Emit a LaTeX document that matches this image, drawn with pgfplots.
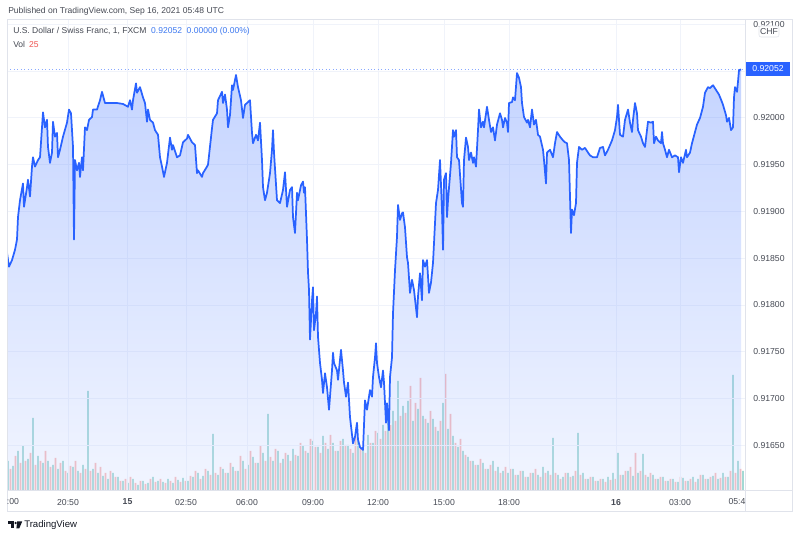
\documentclass[border=0pt]{standalone}
\usepackage{fontspec}
\setmainfont{Liberation Sans}
\usepackage{pgfplots}
\pgfplotsset{compat=1.18}
\usepackage{pgfplotstable}

\definecolor{tvblue}{RGB}{41,98,255}
\definecolor{tvgreen}{RGB}{38,166,154}
\definecolor{tvred}{RGB}{239,83,80}
\definecolor{tvgrid}{RGB}{240,243,250}
\definecolor{tvframe}{RGB}{224,227,235}
\definecolor{tvlabel}{RGB}{70,74,84}
\definecolor{tvdark}{RGB}{19,23,34}
\definecolor{tvlegend}{RGB}{60,120,240}

% USD/CHF 1-minute close, x = bar position along the time scale
\pgfplotstableread{
x p
7 0.91856
9 0.91841
12 0.91848
15 0.91859
17 0.91870
18 0.91894
20 0.91912
23 0.91930
24 0.91905
27 0.91926
28 0.91934
30 0.91916
32 0.91948
33 0.91958
35 0.91948
38 0.91955
40 0.91958
42 0.91990
43 0.92006
45 0.91990
47 0.91998
48 0.91969
50 0.91952
52 0.91963
53 0.91996
55 0.91980
57 0.91984
58 0.91958
60 0.91966
63 0.91980
67 0.91995
69 0.92009
71 0.92005
73 0.91969
74 0.91870
75 0.91955
77 0.91944
79 0.91952
80 0.91937
82 0.91958
83 0.91944
85 0.91990
87 0.91987
89 0.91998
92 0.92001
93 0.92009
97 0.92009
100 0.92019
102 0.92028
105 0.92016
110 0.92016
117 0.92016
123 0.92015
128 0.92012
130 0.92019
132 0.92009
133 0.92019
136 0.92037
137 0.92027
140 0.92033
143 0.92022
145 0.92016
147 0.91996
148 0.92009
150 0.91998
153 0.91995
155 0.91987
158 0.91982
160 0.91958
162 0.91948
164 0.91937
167 0.91952
170 0.91979
172 0.91966
173 0.91971
177 0.91958
180 0.91960
183 0.91974
187 0.91978
188 0.91982
192 0.91974
195 0.91971
197 0.91941
198 0.91944
202 0.91937
203 0.91941
207 0.91948
208 0.91950
212 0.91989
213 0.91998
217 0.92005
218 0.92019
222 0.92028
223 0.92016
225 0.92025
227 0.92009
228 0.91990
230 0.92003
232 0.92035
233 0.92030
236 0.92046
238 0.92033
241 0.92019
243 0.92000
245 0.92014
248 0.92017
250 0.92019
252 0.91984
253 0.91973
256 0.91982
258 0.91976
260 0.91995
262 0.91955
263 0.91926
265 0.91912
267 0.91920
270 0.91941
272 0.91966
273 0.91987
274 0.91963
277 0.91912
280 0.91909
283 0.91923
285 0.91942
287 0.91905
290 0.91923
292 0.91926
293 0.91894
295 0.91877
297 0.91920
298 0.91912
301 0.91928
303 0.91932
304 0.91920
305 0.91926
307 0.91870
308 0.91835
309 0.91816
310 0.91763
312 0.91805
313 0.91819
314 0.91773
316 0.91791
317 0.91809
318 0.91766
320 0.91738
322 0.91720
323 0.91706
325 0.91727
327 0.91712
329 0.91688
332 0.91730
333 0.91749
334 0.91738
337 0.91730
338 0.91720
341 0.91752
343 0.91730
344 0.91717
346 0.91702
348 0.91717
350 0.91680
353 0.91652
355 0.91659
357 0.91674
358 0.91656
360 0.91648
363 0.91645
365 0.91698
367 0.91688
368 0.91695
370 0.91709
372 0.91702
373 0.91723
375 0.91744
376 0.91759
377 0.91738
379 0.91723
381 0.91712
383 0.91730
384 0.91717
386 0.91674
387 0.91695
389 0.91666
390 0.91723
392 0.91744
393 0.91791
395 0.91837
397 0.91873
398 0.91907
400 0.91891
402 0.91898
403 0.91899
405 0.91883
407 0.91851
408 0.91845
410 0.91813
412 0.91827
414 0.91816
417 0.91787
418 0.91809
420 0.91834
422 0.91805
423 0.91848
425 0.91841
427 0.91848
429 0.91813
431 0.91824
433 0.91845
434 0.91866
436 0.91909
438 0.91923
440 0.91955
442 0.91902
443 0.91859
444 0.91934
446 0.91941
447 0.91894
448 0.91912
451 0.91952
453 0.91987
454 0.91980
456 0.91987
457 0.91958
459 0.91955
462 0.91909
463 0.91905
464 0.91955
466 0.91979
468 0.91969
469 0.91955
471 0.91963
473 0.91952
474 0.91958
476 0.91948
478 0.91987
479 0.92009
481 0.91990
483 0.91996
484 0.91990
487 0.92012
489 0.91998
491 0.91985
493 0.91990
495 0.91976
497 0.91993
500 0.92005
502 0.91998
503 0.91990
505 0.92000
507 0.91995
508 0.91985
509 0.92016
512 0.92017
513 0.92022
515 0.92019
517 0.92048
519 0.92043
521 0.92033
522 0.92016
524 0.92001
527 0.91995
528 0.91998
530 0.91990
532 0.92009
534 0.91993
536 0.91998
538 0.91982
540 0.91980
543 0.91966
544 0.91955
546 0.91930
547 0.91963
550 0.91966
553 0.91958
555 0.91973
557 0.91985
560 0.91980
563 0.91976
565 0.91974
567 0.91973
569 0.91955
571 0.91877
572 0.91902
574 0.91896
576 0.91909
577 0.91952
579 0.91969
582 0.91966
585 0.91968
588 0.91963
590 0.91960
593 0.91958
597 0.91958
600 0.91968
603 0.91969
605 0.91960
608 0.91966
612 0.91976
615 0.91987
617 0.92001
618 0.92014
620 0.91982
623 0.91980
625 0.91998
628 0.92009
630 0.91995
632 0.91985
633 0.91998
635 0.92016
637 0.92005
638 0.91987
641 0.91980
643 0.91973
645 0.91969
647 0.91987
648 0.91996
651 0.91995
653 0.91996
654 0.91973
656 0.91980
658 0.91976
661 0.91973
662 0.91985
663 0.91973
665 0.91966
667 0.91958
669 0.91966
672 0.91958
675 0.91960
678 0.91958
679 0.91942
681 0.91958
683 0.91952
686 0.91966
687 0.91958
690 0.91963
692 0.91973
695 0.91985
697 0.91993
700 0.92000
703 0.92012
705 0.92027
708 0.92033
710 0.92032
713 0.92035
716 0.92030
719 0.92025
722 0.92017
723 0.92014
726 0.92003
727 0.91996
729 0.92000
731 0.91987
733 0.91990
734 0.92022
735 0.92033
737 0.92028
738 0.92039
739 0.92051
741 0.92052
}\pricedata

% volume: g = up bars, r = down bars (r drawn 2.5 units right of x)
\pgfplotstableread{
x g r
8 30 22
13 25 35
18 40 28
23 45 30
28 32 38
33 73 26
38 35 30
43 28 40
48 30 24
53 26 33
58 22 28
63 30 20
68 18 25
73 24 30
78 20 18
83 26 22
88 100 20
93 22 28
98 18 24
103 15 18
108 12 20
113 18 14
118 14 10
123 10 12
128 8 14
133 12 8
138 6 10
143 10 7
148 8 12
153 14 9
158 10 12
163 9 8
168 12 10
173 8 14
178 11 9
183 13 10
188 10 15
193 14 20
198 18 12
203 15 22
208 20 16
213 57 18
218 16 24
223 22 18
228 18 28
233 24 20
238 20 35
243 30 22
248 26 40
253 34 28
258 28 45
263 38 30
268 77 34
273 30 42
278 40 28
283 32 38
288 36 30
293 42 36
298 35 48
303 45 40
308 38 52
313 50 44
318 44 38
323 55 48
328 42 56
333 48 40
338 40 50
343 52 46
348 46 42
353 38 54
358 50 44
363 44 38
368 56 48
373 48 60
378 58 52
383 66 60
388 72 66
393 80 70
398 110 75
403 85 78
408 90 105
413 70 88
418 82 113
423 75 72
428 68 80
433 72 64
438 60 70
443 88 117
448 62 77
453 55 48
458 44 52
463 40 36
468 34 30
473 30 26
478 26 32
483 28 22
488 22 26
493 30 20
498 24 18
503 20 24
508 18 22
513 22 16
518 16 20
523 20 14
528 14 18
533 18 22
538 16 14
543 24 18
548 20 16
553 53 18
558 16 12
563 14 18
568 18 14
573 15 20
578 58 16
583 18 12
588 12 14
593 14 10
598 10 12
603 12 9
608 14 11
613 18 12
618 38 16
623 16 20
628 20 24
633 15 38
638 18 20
643 37 16
648 14 18
653 16 12
658 12 14
663 14 10
668 10 12
673 12 9
678 9 14
683 13 10
688 10 12
693 14 9
698 12 16
703 16 12
708 12 14
713 15 18
718 12 13
723 18 14
728 14 20
733 116 18
738 30 22
743 20 0
}\voldata

\begin{document}
\begin{tikzpicture}
\useasboundingbox[fill=white] (0,0) rectangle (600pt,403.5pt);

% volume pane (hidden axis, same plot area)
\begin{axis}[
    at={(5.25pt,35.25pt)}, anchor=south west,
    scale only axis, width=553.5pt, height=353.25pt,
    xmin=7, xmax=745, ymin=0, ymax=471,
    hide axis,
]
\addplot[ybar, bar shift=0pt, bar width=1.4pt, fill=tvgreen, draw=none, fill opacity=0.42]
    table[x=x, y=g] {\voldata};
\addplot[ybar, bar shift=0pt, bar width=1.4pt, fill=tvred, draw=none, fill opacity=0.42]
    table[x expr=\thisrow{x}+2.5, y=r] {\voldata};
\end{axis}

% price pane
\begin{axis}[
    at={(5.25pt,35.25pt)}, anchor=south west,
    scale only axis, width=553.5pt, height=353.25pt,
    xmin=7, xmax=745, ymin=0.916011, ymax=0.921048,
    axis line style={draw=none},
    major tick length=0pt,
    grid=major,
    major grid style={tvgrid, line width=0.75pt},
    xtick={68,127.5,186,247,313,378,444,509,616,680},
    xticklabels={20:50,\textbf{15},02:50,06:00,09:00,12:00,15:00,18:00,\textbf{16},03:00},
    ytick={0.9165,0.917,0.9175,0.918,0.9185,0.919,0.9195,0.92,0.921},
    extra y ticks={0.9205},
    extra y tick labels={},
    extra y tick style={grid=major},
    yticklabel pos=right,
    scaled y ticks=false,
    yticklabel style={/pgf/number format/fixed, /pgf/number format/fixed zerofill,
        /pgf/number format/precision=5, anchor=west, inner sep=0pt, xshift=6pt},
    ticklabel style={font=\fontsize{6.5}{7}\selectfont, text=tvlabel,
        /pgf/number format/assume math mode=true},
    xticklabel style={anchor=center, inner sep=0pt, yshift=-8.3pt},
]
\addplot[draw=none, top color=tvblue, bottom color=tvblue!22!white, fill opacity=0.27]
    table[x=x, y=p] {\pricedata}
    -- (axis cs:741,0.916011) -- (axis cs:7,0.916011) -- cycle;
\draw[tvblue!55, dotted, line width=0.6pt] (axis cs:7,0.92052) -- (axis cs:745,0.92052);
\addplot[tvblue, line width=1.3pt, line join=round] table[x=x, y=p] {\pricedata};
\end{axis}

% frame, labels and captions in pixel coordinates
\begin{scope}[x=0.75pt, y=-0.75pt, shift={(0pt,403.5pt)}]
\draw[tvframe, line width=0.75pt] (7,20) rectangle (792,512);
\draw[tvframe, line width=0.75pt] (745,20) -- (745,512);
\draw[tvframe, line width=0.75pt] (7,491) -- (792,491);

\node[anchor=center, inner sep=0pt, text=tvlabel, font=\fontsize{6.5}{7}\selectfont] at (13,502) {:00};
\node[anchor=center, inner sep=0pt, text=tvlabel, font=\fontsize{6.5}{7}\selectfont] at (737,502) {05:4};

\fill[tvblue] (746,62) rectangle (790,76);
\node[anchor=center, inner sep=0pt, text=white, font=\fontsize{6.5}{7}\selectfont] at (768,69) {0.92052};

\draw[tvframe, fill=white, rounded corners=1.5pt] (759,26) rectangle (779,37);
\node[anchor=center, inner sep=0pt, text=tvlabel, font=\fontsize{6.5}{7}\selectfont] at (769,31.5) {CHF};

\node[anchor=west, inner sep=0pt, text=tvlabel, font=\fontsize{6.4}{8}\selectfont] at (8,11)
    {Published on TradingView.com, Sep 16, 2021 05:48 UTC};
\node[anchor=west, inner sep=0pt, text=tvlabel, font=\fontsize{6.4}{8}\selectfont] at (13,31)
    {U.S. Dollar / Swiss Franc, 1, FXCM\hspace{3.5pt}\textcolor{tvlegend}{0.92052\hspace{3.5pt}0.00000 (0.00\%)}};
\node[anchor=west, inner sep=0pt, text=tvlabel, font=\fontsize{6.4}{8}\selectfont] at (13,44)
    {Vol\hspace{3pt}\textcolor{tvred}{25}};

% TradingView logo and name
\fill[tvdark] (7.5,521.5) rectangle (13.5,523.8);
\fill[tvdark] (10.6,521.5) rectangle (13.5,528.5);
\fill[tvdark] (15.6,523) circle (1.3);
\fill[tvdark] (17.2,521.5) -- (22.2,521.5) -- (19.2,528.5) -- (16.4,528.5) -- cycle;
\node[anchor=west, inner sep=0pt, text=tvdark, font=\fontsize{7.2}{8}\selectfont] at (24,525) {TradingView};
\end{scope}
\end{tikzpicture}
\end{document}
